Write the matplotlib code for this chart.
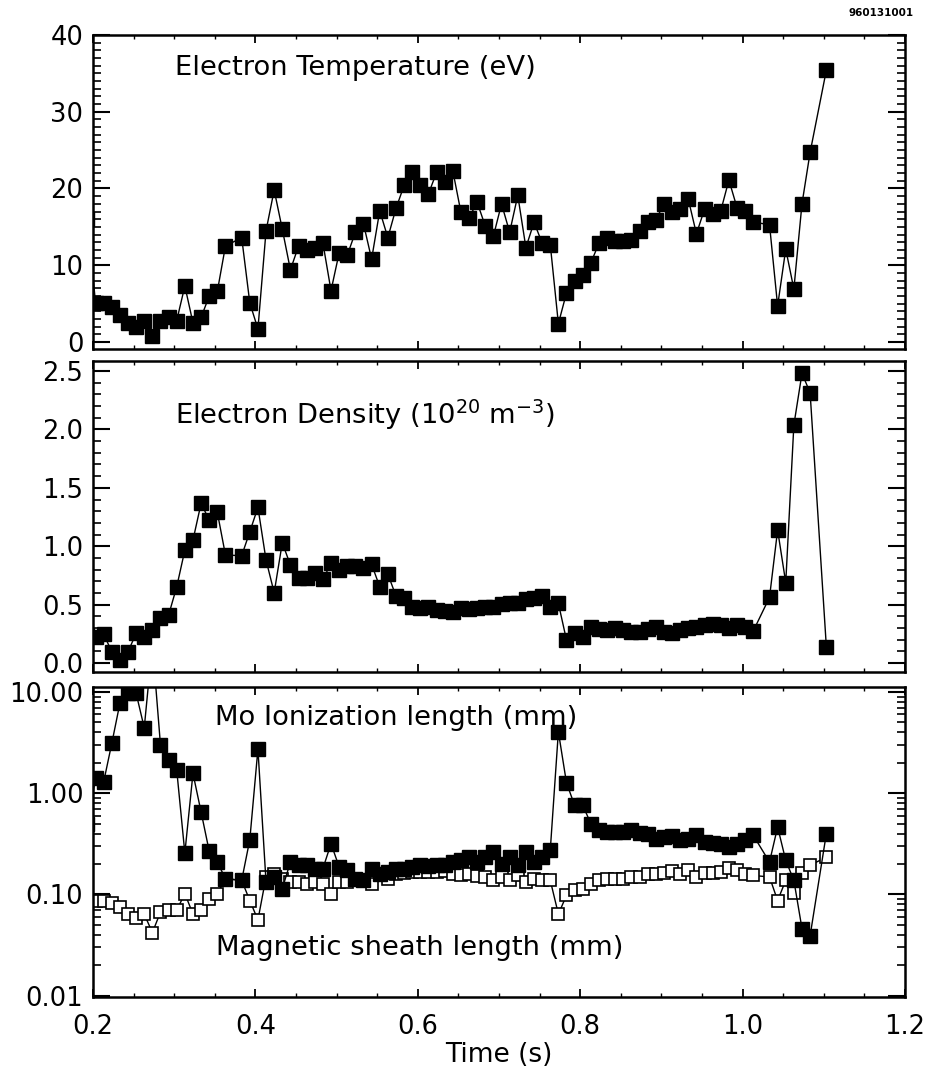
import matplotlib
matplotlib.use("Agg")
import matplotlib.pyplot as plt
from matplotlib.transforms import ScaledTranslation
from matplotlib.ticker import MultipleLocator, FixedLocator, FuncFormatter, LogLocator, NullFormatter

plt.rcParams['font.family'] = ['DejaVu Sans']

# time base (s); 0.37, 1.02 and 1.09 have no point
time = [0.19, 0.20, 0.21, 0.22, 0.23, 0.24, 0.25, 0.26, 0.27, 0.28, 0.29,
        0.30, 0.31, 0.32, 0.33, 0.34, 0.35, 0.36, 0.38, 0.39, 0.40,
        0.41, 0.42, 0.43, 0.44, 0.45, 0.46, 0.47, 0.48, 0.49, 0.50,
        0.51, 0.52, 0.53, 0.54, 0.55, 0.56, 0.57, 0.58, 0.59, 0.60,
        0.61, 0.62, 0.63, 0.64, 0.65, 0.66, 0.67, 0.68, 0.69, 0.70,
        0.71, 0.72, 0.73, 0.74, 0.75, 0.76, 0.77, 0.78, 0.79, 0.80,
        0.81, 0.82, 0.83, 0.84, 0.85, 0.86, 0.87, 0.88, 0.89, 0.90,
        0.91, 0.92, 0.93, 0.94, 0.95, 0.96, 0.97, 0.98, 0.99, 1.00,
        1.01, 1.03, 1.04, 1.05, 1.06, 1.07, 1.08, 1.10]

# electron temperature (eV)
te = [16.0, 5.1, 5.1, 4.6, 3.5, 2.5, 1.9, 2.8, 0.8, 2.7, 3.2,
      2.8, 7.3, 2.5, 3.2, 6.0, 6.6, 12.5, 13.6, 5.1, 1.7,
      14.5, 19.8, 14.7, 9.4, 12.5, 12.0, 12.3, 12.9, 6.7, 11.6,
      11.3, 14.3, 15.4, 10.8, 17.1, 13.6, 17.4, 20.4, 22.1, 20.4,
      19.3, 22.1, 20.9, 22.3, 16.9, 16.2, 18.2, 15.1, 13.8, 18.0,
      14.3, 19.1, 12.3, 15.6, 12.9, 12.7, 2.4, 6.4, 8.0, 8.7,
      10.3, 12.9, 13.6, 13.2, 13.2, 13.3, 14.5, 15.6, 15.9, 18.0,
      16.9, 17.3, 18.6, 14.1, 17.3, 16.7, 17.1, 21.1, 17.5, 17.1,
      15.6, 15.3, 4.7, 12.1, 6.9, 18.0, 24.7, 35.4]

# electron density (1e20 m^-3)
ne = [0.24, 0.225, 0.248, 0.097, 0.026, 0.097, 0.254, 0.225, 0.283, 0.383, 0.411,
      0.653, 0.967, 1.053, 1.367, 1.224, 1.290, 0.925, 0.919, 1.124, 1.333,
      0.882, 0.602, 1.030, 0.839, 0.725, 0.725, 0.768, 0.716, 0.853, 0.796,
      0.830, 0.830, 0.810, 0.845, 0.653, 0.762, 0.574, 0.559, 0.482, 0.468,
      0.482, 0.454, 0.448, 0.439, 0.468, 0.459, 0.468, 0.477, 0.482, 0.502,
      0.511, 0.511, 0.545, 0.554, 0.574, 0.482, 0.511, 0.197, 0.254, 0.225,
      0.305, 0.288, 0.283, 0.297, 0.283, 0.268, 0.268, 0.288, 0.311, 0.268,
      0.260, 0.283, 0.297, 0.305, 0.325, 0.334, 0.325, 0.297, 0.325, 0.311,
      0.274, 0.562, 1.139, 0.688, 2.038, 2.480, 2.315, 0.140]

# Mo ionization length (mm)
mo_ion = [0.50, 1.40, 1.29, 3.10, 7.72, 9.70, 9.70, 4.43, 30.0, 2.98, 2.12,
          1.69, 0.256, 1.57, 0.653, 0.268, 0.209, 0.143, 0.138, 0.348, 2.73,
          0.132, 0.149, 0.114, 0.209, 0.194, 0.194, 0.180, 0.180, 0.318, 0.187,
          0.175, 0.143, 0.140, 0.180, 0.160, 0.167, 0.180, 0.180, 0.187, 0.194,
          0.189, 0.194, 0.194, 0.209, 0.217, 0.234, 0.209, 0.234, 0.261, 0.201,
          0.234, 0.194, 0.261, 0.209, 0.234, 0.273, 4.05, 1.265, 0.760, 0.760,
          0.501, 0.430, 0.414, 0.414, 0.414, 0.430, 0.405, 0.393, 0.356, 0.370,
          0.375, 0.343, 0.356, 0.384, 0.330, 0.322, 0.318, 0.294, 0.318, 0.343,
          0.384, 0.209, 0.464, 0.217, 0.138, 0.046, 0.039, 0.399]

# magnetic sheath length (mm)
sheath = [0.146, 0.087, 0.086, 0.082, 0.075, 0.064, 0.058, 0.064, 0.042, 0.067, 0.070,
          0.070, 0.102, 0.064, 0.070, 0.091, 0.102, 0.143, 0.138, 0.087, 0.056,
          0.149, 0.161, 0.143, 0.132, 0.132, 0.128, 0.132, 0.128, 0.100, 0.132,
          0.132, 0.140, 0.138, 0.128, 0.161, 0.141, 0.161, 0.163, 0.167, 0.167,
          0.167, 0.167, 0.171, 0.161, 0.154, 0.160, 0.151, 0.149, 0.138, 0.149,
          0.138, 0.154, 0.132, 0.143, 0.138, 0.138, 0.064, 0.098, 0.110, 0.114,
          0.128, 0.138, 0.143, 0.143, 0.143, 0.149, 0.149, 0.158, 0.160, 0.163,
          0.171, 0.160, 0.173, 0.149, 0.163, 0.163, 0.167, 0.184, 0.173, 0.160,
          0.154, 0.149, 0.087, 0.138, 0.103, 0.163, 0.194, 0.234]

TICK_FS = 18.5
TEXT_FS = 19.7


def style_axes(ax):
    for s in ax.spines.values():
        s.set_linewidth(1.8)
    ax.set_xlim(0.2, 1.2)
    ax.xaxis.set_major_locator(MultipleLocator(0.2))
    ax.xaxis.set_minor_locator(MultipleLocator(0.05))
    ax.tick_params(axis='x', which='major', direction='in', length=6, width=1.3,
                   top=True, bottom=True, labelsize=TICK_FS, pad=12)
    ax.tick_params(axis='x', which='minor', direction='in', length=3, width=1.0,
                   top=True, bottom=True)
    ax.tick_params(axis='y', which='major', direction='in', length=12, width=1.5,
                   left=True, right=True, labelsize=TICK_FS, pad=7)
    ax.tick_params(axis='y', which='minor', direction='in', length=6, width=1.2,
                   left=True, right=True)


fig = plt.figure(figsize=(9.34, 10.78), dpi=100)
ax1 = fig.add_axes([0.0996, 0.6763, 0.8694, 0.2913])
ax2 = fig.add_axes([0.0996, 0.3766, 0.8694, 0.2885])
ax3 = fig.add_axes([0.0996, 0.0751, 0.8694, 0.2876])

# the scanned marks sit a few pixels right of the nominal times
shift = ScaledTranslation(2.5 / 100, 0, fig.dpi_scale_trans)
line_kw = dict(color='black', lw=1.0)

# panel 1: electron temperature
ax1.plot(time, te, marker='s', ms=9.5, mfc='black', mec='black',
         transform=ax1.transData + shift, **line_kw)
style_axes(ax1)
ax1.set_ylim(-0.9, 40)
ax1.yaxis.set_major_locator(MultipleLocator(10))
ax1.yaxis.set_minor_locator(MultipleLocator(1))
ax1.tick_params(axis='x', labelbottom=False)
ax1.text(0.101, 0.895, 'Electron Temperature (eV)', transform=ax1.transAxes,
         fontsize=TEXT_FS, va='center', ha='left')

# panel 2: electron density
ax2.plot(time, ne, marker='s', ms=9.5, mfc='black', mec='black',
         transform=ax2.transData + shift, **line_kw)
style_axes(ax2)
ax2.set_ylim(-0.077, 2.586)
ax2.yaxis.set_major_locator(MultipleLocator(0.5))
ax2.yaxis.set_minor_locator(MultipleLocator(0.1))
ax2.yaxis.set_major_formatter(FuncFormatter(lambda v, p: f'{v:.1f}'))
ax2.tick_params(axis='x', labelbottom=False)
ax2.text(0.101, 0.826, r'Electron Density (10$^{20}$ m$^{-3}$)', transform=ax2.transAxes,
         fontsize=TEXT_FS, va='center', ha='left')

# panel 3: lengths (log scale)
ax3.set_yscale('log')
ax3.plot(time, sheath, marker='s', ms=8.5, mfc='white', mec='black', mew=1.2,
         transform=ax3.transData + shift, **line_kw)
ax3.plot(time, mo_ion, marker='s', ms=9.5, mfc='black', mec='black',
         transform=ax3.transData + shift, **line_kw)
style_axes(ax3)
ax3.set_ylim(0.0097, 11.2)
ax3.yaxis.set_major_locator(FixedLocator([0.01, 0.1, 1, 10]))
ax3.yaxis.set_minor_locator(LogLocator(base=10, subs=[2, 3, 4, 5, 6, 7, 8, 9]))
ax3.yaxis.set_major_formatter(FuncFormatter(lambda v, p: f'{v:.2f}'))
ax3.yaxis.set_minor_formatter(NullFormatter())
ax3.xaxis.set_major_formatter(FuncFormatter(lambda v, p: f'{v:.1f}'))
ax3.set_xlabel('Time (s)', fontsize=19, labelpad=2)
ax3.text(0.150, 0.900, 'Mo Ionization length (mm)', transform=ax3.transAxes,
         fontsize=TEXT_FS, va='center', ha='left')
ax3.text(0.152, 0.158, 'Magnetic sheath length (mm)', transform=ax3.transAxes,
         fontsize=TEXT_FS, va='center', ha='left')

fig.text(0.978, 0.988, '960131001', fontsize=7.5, fontweight='bold', ha='right', va='center')

fig.savefig('out.png', dpi=100)
